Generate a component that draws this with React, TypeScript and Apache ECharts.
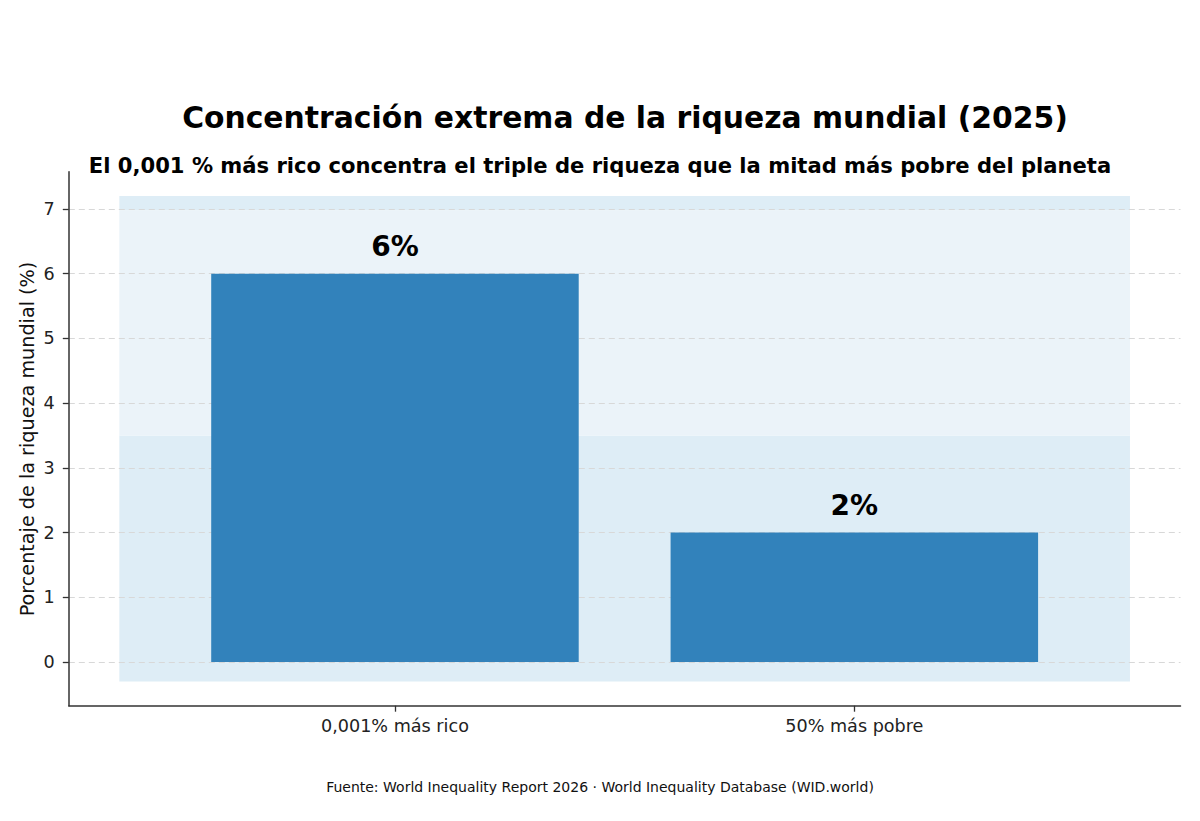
import React, { useEffect, useRef } from "react";
import * as echarts from "echarts";

const categories = ["0,001% más rico", "50% más pobre"];
const shares = [6, 2];
const valueLabels = ["6%", "2%"];
const yTicks = [0, 1, 2, 3, 4, 5, 6, 7];
const xTicks = [0, 1];
// bands: [x0, x1, y0, y1, colorIndex]
const bands = [
  [-0.6, 1.6, -0.3, 3.5, 0],
  [-0.6, 1.6, 3.5, 6.98, 1],
  [-0.6, 1.6, 6.98, 7.2, 0],
];
const bandColors = ["#deedf6", "#ebf3f9"];
const BAR_COLOR = "#3282bb";
const FONT = "DejaVu Sans";

export default function App() {
  const ref = useRef<HTMLDivElement>(null);
  useEffect(() => {
    const chart = echarts.init(ref.current!, null, { renderer: "svg" });
    chart.setOption({
      animation: false,
      backgroundColor: "#ffffff",
      grid: { left: 68.8, right: 19.5, top: 171.8, bottom: 115.3, containLabel: false },
      xAxis: {
        type: "value",
        min: -0.71,
        max: 1.71,
        z: 5,
        axisLine: { show: true, onZero: false, lineStyle: { color: "#333333", width: 1.5 } },
        axisTick: { show: true, length: 6, customValues: xTicks, lineStyle: { color: "#333333", width: 1.3 } },
        axisLabel: {
          customValues: xTicks,
          margin: 11,
          fontFamily: FONT,
          fontSize: 17.6,
          color: "#222222",
          formatter: (v: number) => categories[Math.round(v)] ?? "",
        },
        splitLine: { show: false },
      },
      yAxis: {
        type: "value",
        min: -0.675,
        max: 7.575,
        z: 2,
        axisLine: { show: true, onZero: false, lineStyle: { color: "#333333", width: 1.5 } },
        axisTick: { show: true, length: 6, customValues: yTicks, lineStyle: { color: "#333333", width: 1.3 } },
        axisLabel: {
          customValues: yTicks,
          margin: 14,
          fontFamily: FONT,
          fontSize: 17.6,
          color: "#222222",
        },
        splitLine: {
          show: true,
          lineStyle: { color: "#d8d8d8", type: [6, 4], width: 1.2 },
        },
      },
      series: [
        {
          type: "custom",
          z: 1,
          silent: true,
          data: bands,
          renderItem: (params: any, api: any) => {
            const p0 = api.coord([api.value(0), api.value(3)]);
            const p1 = api.coord([api.value(1), api.value(2)]);
            return {
              type: "rect",
              shape: { x: p0[0], y: p0[1], width: p1[0] - p0[0], height: p1[1] - p0[1] },
              style: { fill: bandColors[api.value(4)] },
            };
          },
        },
        {
          type: "custom",
          z: 3,
          data: shares.map((v, i) => [i, v]),
          renderItem: (params: any, api: any) => {
            const x = api.value(0);
            const v = api.value(1);
            const top = api.coord([x, v]);
            const base = api.coord([x, 0]);
            const w = api.size([0.8, 0])[0];
            return {
              type: "group",
              children: [
                {
                  type: "rect",
                  shape: { x: top[0] - w / 2, y: top[1], width: w, height: base[1] - top[1] },
                  style: { fill: BAR_COLOR },
                },
                {
                  type: "text",
                  x: top[0],
                  y: top[1] - 27,
                  style: {
                    text: valueLabels[params.dataIndex],
                    fontFamily: FONT,
                    fontWeight: "bold",
                    fontSize: 28,
                    fill: "#000000",
                    align: "center",
                    verticalAlign: "middle",
                  },
                },
              ],
            };
          },
        },
      ],
      graphic: [
        {
          type: "text",
          x: 625,
          y: 117,
          style: {
            text: "Concentración extrema de la riqueza mundial (2025)",
            fontFamily: FONT,
            fontWeight: "bold",
            fontSize: 29.8,
            fill: "#000000",
            align: "center",
            verticalAlign: "middle",
          },
        },
        {
          type: "text",
          x: 600,
          y: 165,
          style: {
            text: "El 0,001 % más rico concentra el triple de riqueza que la mitad más pobre del planeta",
            fontFamily: FONT,
            fontWeight: "bold",
            fontSize: 21.1,
            fill: "#000000",
            align: "center",
            verticalAlign: "middle",
          },
        },
        {
          type: "text",
          x: 27,
          y: 439,
          rotation: Math.PI / 2,
          style: {
            text: "Porcentaje de la riqueza mundial (%)",
            fontFamily: FONT,
            fontSize: 19.2,
            fill: "#111111",
            align: "center",
            verticalAlign: "middle",
          },
        },
        {
          type: "text",
          x: 600,
          y: 787,
          style: {
            text: "Fuente: World Inequality Report 2026 · World Inequality Database (WID.world)",
            fontFamily: FONT,
            fontSize: 14,
            fill: "#111111",
            align: "center",
            verticalAlign: "middle",
          },
        },
      ],
    });
    return () => chart.dispose();
  }, []);
  return (
    <div
      ref={ref}
      style={{ position: "fixed", left: 0, top: 0, width: 1200, height: 821, background: "#fff" }}
    />
  );
}
